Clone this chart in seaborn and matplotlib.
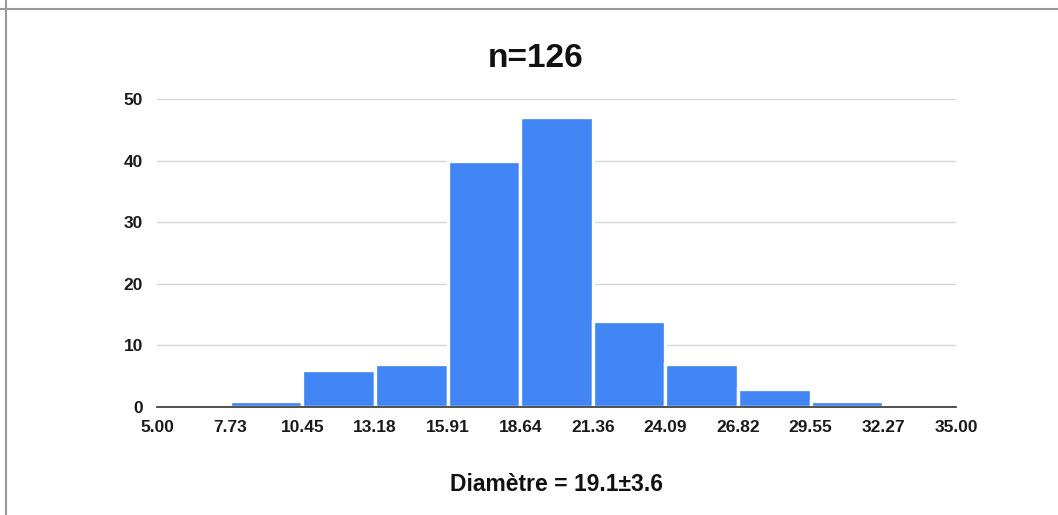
import numpy as np
import pandas as pd
import matplotlib
matplotlib.use('Agg')
import matplotlib.pyplot as plt
from matplotlib.lines import Line2D
import seaborn as sns

# histogram data
bin_edges = [5.00, 7.73, 10.45, 13.18, 15.91, 18.64, 21.36, 24.09, 26.82, 29.55, 32.27, 35.00]
counts = [0, 1, 6, 7, 40, 47, 14, 7, 3, 1, 0]
tick_labels = ['5.00', '7.73', '10.45', '13.18', '15.91', '18.64', '21.36',
               '24.09', '26.82', '29.55', '32.27', '35.00']
y_ticks = [0, 10, 20, 30, 40, 50]

edges = [float(v) for v in np.linspace(5, 35, 12)]
centers = [(edges[i] + edges[i + 1]) / 2 for i in range(len(counts))]
df = pd.DataFrame({'diam': centers, 'n': counts})

sns.set_style('white')
plt.rcParams['font.family'] = ['Liberation Sans', 'DejaVu Sans']

fig = plt.figure(figsize=(10.58, 5.15), dpi=100)
ax = fig.add_axes([0.1484, 0.2097, 0.9036 - 0.1484, 0.8078 - 0.2097])

sns.histplot(data=df, x='diam', weights='n', bins=edges, ax=ax,
             color='#4285F4', alpha=1, edgecolor='white', linewidth=2.4)

ax.set_xlim(5, 35)
ax.set_ylim(0, 50)
ax.set_yticks(y_ticks)
ax.set_yticklabels([str(v) for v in y_ticks], fontsize=12.5, fontweight='bold', color='#1a1a1a')
ax.set_xticks(edges)
ax.set_xticklabels(tick_labels, fontsize=12.5, fontweight='bold', color='#1a1a1a')
ax.tick_params(axis='both', length=0)
ax.tick_params(axis='x', pad=9)
ax.tick_params(axis='y', pad=10)

ax.grid(axis='y', color='#d6d6d6', linewidth=1)
ax.set_axisbelow(True)
for s in ['top', 'right', 'left']:
    ax.spines[s].set_visible(False)
ax.spines['bottom'].set_color('#333333')
ax.spines['bottom'].set_linewidth(1.2)
ax.spines['bottom'].set_zorder(5)

ax.set_ylabel('')
ax.set_xlabel('Diamètre = 19.1±3.6', fontsize=16.5, fontweight='bold', color='#111111', labelpad=28)
fig.text(0.506, 0.887, 'n=126', ha='center', va='center', fontsize=24, fontweight='bold', color='#111111')

# sheet frame lines
fig.add_artist(Line2D([0, 1], [1 - 8.5 / 515, 1 - 8.5 / 515], color='#999999', linewidth=1.5))
fig.add_artist(Line2D([5.5 / 1058, 5.5 / 1058], [0, 1], color='#999999', linewidth=1.5))

fig.savefig('out.png', dpi=100, facecolor='white')
